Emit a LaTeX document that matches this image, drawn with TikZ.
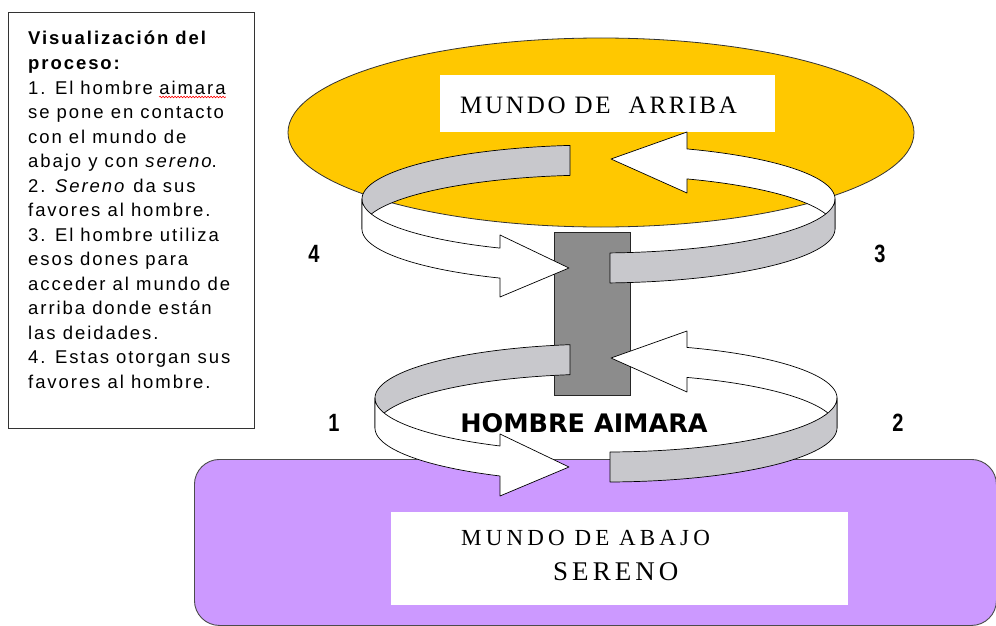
\documentclass[tikz,border=0pt]{standalone}
\usepackage{fontspec}
\usepackage{graphicx}
\setmainfont{Liberation Sans}
\newfontfamily\bodyfamily{Liberation Sans}[LetterSpace=10.5]
\newfontfamily\wserif{Liberation Serif}[LetterSpace=11]
\newfontfamily\wserifb{Liberation Serif}[LetterSpace=18]
\newfontfamily\wserifc{Liberation Serif}[LetterSpace=15]
\newfontfamily\heavyfamily{DejaVu Sans}
\newfontfamily\numfamily{Liberation Sans}
\usetikzlibrary{shapes.geometric,decorations.pathmorphing}
\definecolor{yel}{RGB}{255,200,0}
\definecolor{lav}{RGB}{204,153,255}
\definecolor{colgray}{RGB}{140,140,140}
\definecolor{bandgray}{RGB}{200,200,204}
\newcommand\bodyfont{\bodyfamily\fontsize{18.5}{24}\selectfont}
\tikzset{
  txtline/.style={anchor=base west, inner sep=0pt, font=\bodyfont},
  ribbon/.style={draw=black, line width=0.7pt, line join=round},
  numlabel/.style={inner sep=0pt, font=\numfamily\bfseries\fontsize{25}{25}\selectfont},
}
\def\rb{54}
\def\hh{15}
% #1 = centre y, #2 = centre x, #3 = half width
\newcommand\RingArrows[3]{%
  \pgfmathsetmacro\cy{#1}%
  \pgfmathsetmacro\cx{#2}%
  \pgfmathsetmacro\ra{#3}%
  \pgfmathsetmacro\tA{360-acos((570-\cx)/\ra)}%
  \pgfmathsetmacro\tB{360-acos((687-\cx)/\ra)}%
  \pgfmathsetmacro\tC{acos((500-\cx)/\ra)}%
  \pgfmathsetmacro\tD{acos((610-\cx)/\ra)}%
  % back left (grey)
  \filldraw[ribbon, fill=bandgray]
    plot[domain=180:\tA, samples=40] ({\cx+\ra*cos(\x)},{\cy+\rb*sin(\x)-\hh})
    -- plot[domain=\tA:180, samples=40] ({\cx+\ra*cos(\x)},{\cy+\rb*sin(\x)+\hh}) -- cycle;
  % back right (white, with head)
  \filldraw[ribbon, fill=white]
    plot[domain=360:\tB, samples=40] ({\cx+\ra*cos(\x)},{\cy+\rb*sin(\x)-\hh})
    -- (687,\cy-82) -- (611,\cy-55) -- (687,\cy-21)
    -- plot[domain=\tB:360, samples=40] ({\cx+\ra*cos(\x)},{\cy+\rb*sin(\x)+\hh}) -- cycle;
  % front left (white, with head)
  \filldraw[ribbon, fill=white]
    plot[domain=180:\tC, samples=40] ({\cx+\ra*cos(\x)},{\cy+\rb*sin(\x)-\hh})
    -- (500,\cy+21) -- (569,\cy+54) -- (500,\cy+83)
    -- plot[domain=\tC:180, samples=40] ({\cx+\ra*cos(\x)},{\cy+\rb*sin(\x)+\hh}) -- cycle;
  % front right (grey)
  \filldraw[ribbon, fill=bandgray]
    plot[domain=0:\tD, samples=40] ({\cx+\ra*cos(\x)},{\cy+\rb*sin(\x)-\hh})
    -- plot[domain=\tD:0, samples=40] ({\cx+\ra*cos(\x)},{\cy+\rb*sin(\x)+\hh}) -- cycle;
}
\begin{document}
\begin{tikzpicture}[x=1pt,y=-1pt]
\useasboundingbox (0,0) rectangle (996,626);
\fill[white] (0,0) rectangle (996,626);

% explanation box
\node[draw=black!80, line width=1.3pt, fill=white, minimum width=246pt, minimum height=416pt,
      anchor=north west, inner sep=0pt] (tbox) at (8,12) {};
\node[txtline] (l1) at (28,45) {\bfseries Visualización del};
\node[txtline] (l2) at (28,69.5) {\bfseries proceso:};
\node[txtline] (l3) at (28,94) {1. El hombre};
\node[txtline] (l3b) at ([xshift=6pt]l3.base east) {aimara};
\node[txtline] (l4) at (28,118.5) {se pone en contacto};
\node[txtline] (l5) at (28,143) {con el mundo de};
\node[txtline] (l6) at (28,167.5) {abajo y con \textit{sereno}.};
\node[txtline] (l7) at (28,192) {2. \textit{Sereno} da sus};
\node[txtline] (l8) at (28,216.5) {favores al hombre.};
\node[txtline] (l9) at (28,241) {3. El hombre utiliza};
\node[txtline] (l10) at (28,265.5) {esos dones para};
\node[txtline] (l11) at (28,290) {acceder al mundo de};
\node[txtline] (l12) at (28,314.5) {arriba donde están};
\node[txtline] (l13) at (28,339) {las deidades.};
\node[txtline] (l14) at (28,363.5) {4. Estas otorgan sus};
\node[txtline] (l15) at (28,388) {favores al hombre.};
\draw[red, line width=0.6pt, decorate, decoration={snake, amplitude=0.8pt, segment length=3pt}]
  ([yshift=-3pt]l3b.base west) -- ([yshift=-3pt]l3b.base east);

% upper world
\node[ellipse, draw=black!80, line width=0.8pt, fill=yel, minimum width=626pt, minimum height=189pt,
      inner sep=0pt] (arriba) at (601,132.5) {};
\node[fill=white, minimum width=335pt, minimum height=57pt, inner sep=0pt] (arribabox) at (607.5,103.5) {};
\node[anchor=base west, inner sep=0pt, font=\wserif\fontsize{25}{25}\selectfont] (arribatxt) at (460,113)
  {MUNDO DE~~ARRIBA};

% lower world
\node[draw=black!70, line width=0.9pt, fill=lav, rounded corners=25pt, minimum width=802pt,
      minimum height=166pt, anchor=north west, inner sep=0pt] (abajo) at (194,459) {};
\node[fill=white, minimum width=457pt, minimum height=93pt, anchor=north west, inner sep=0pt]
  (abajobox) at (391,512) {};
\node[anchor=base west, inner sep=0pt, font=\wserifb\fontsize{23}{23}\selectfont] (abajotxt) at (461,545)
  {MUNDO DE ABAJO};
\node[anchor=base west, inner sep=0pt, font=\wserifc\fontsize{27}{27}\selectfont] (serenotxt) at (553,580)
  {SERENO};

% column (the man)
\node[draw=black!85, line width=0.9pt, fill=colgray, minimum width=76pt, minimum height=163pt,
      anchor=north west, inner sep=0pt] (col) at (554,232) {};

% circular arrows
\RingArrows{214}{598.5}{236.5}
\RingArrows{413}{606}{231}

\node[inner sep=0pt, font=\heavyfamily\bfseries\fontsize{25.5}{25.5}\selectfont] (hombre) at (584,423) {HOMBRE AIMARA};

% step numbers
\node[numlabel] (n4) at (314,254) {\scalebox{0.8}[1]{4}};
\node[numlabel] (n3) at (880,254) {\scalebox{0.8}[1]{3}};
\node[numlabel] (n1) at (334,423) {\scalebox{0.8}[1]{1}};
\node[numlabel] (n2) at (898,423) {\scalebox{0.8}[1]{2}};
\end{tikzpicture}
\end{document}
